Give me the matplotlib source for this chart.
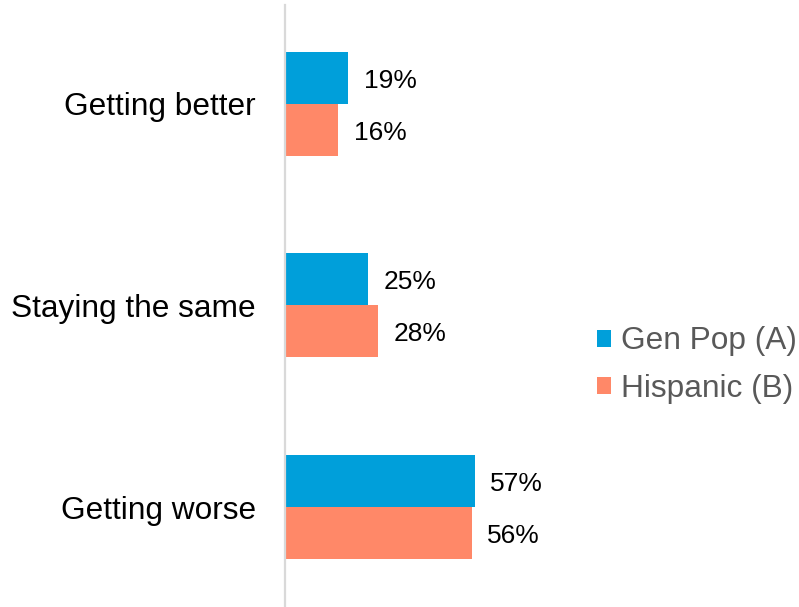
import matplotlib
matplotlib.use("Agg")
import matplotlib.pyplot as plt
from matplotlib.patches import Patch
import numpy as np

plt.rcParams['font.family'] = ['Liberation Sans', 'DejaVu Sans']

categories = ["Getting better", "Staying the same", "Getting worse"]
series_names = ["Gen Pop (A)", "Hispanic (B)"]
gen_pop = [19, 25, 57]
hispanic = [16, 28, 56]
colors = ["#009FDA", "#FF8868"]

W, H = 799, 607
fig = plt.figure(figsize=(W / 100, H / 100), dpi=100)
ax = fig.add_axes([285 / W, 0, 333.3 / W, 602 / H])

y = np.arange(len(categories))
bh = 0.258
ax.barh(y - bh / 2, gen_pop, height=bh, color=colors[0], linewidth=0)
ax.barh(y + bh / 2, hispanic, height=bh, color=colors[1], linewidth=0)

for vals, off in ((gen_pop, -bh / 2), (hispanic, bh / 2)):
    for yi, v in zip(y, vals):
        ax.annotate(f"{v}%", (v, yi + off), xytext=(11, -2), textcoords="offset points",
                    va="center", ha="left", fontsize=19, color="#000000")

ax.set_xlim(0, 100)
ax.set_ylim(2.496, -0.491)
ax.set_yticks(y)
ax.set_yticklabels(categories, fontsize=22.8, color="#000000")
ax.tick_params(axis="y", length=0, pad=21)
ax.set_xticks([])
for s in ("top", "right", "bottom"):
    ax.spines[s].set_visible(False)
ax.spines["left"].set_color("#D9D9D9")
ax.spines["left"].set_linewidth(1.6)
ax.patch.set_alpha(0)

handles = [Patch(facecolor=c, edgecolor="none") for c in colors]
fig.legend(handles, series_names, loc="center left", bbox_to_anchor=(597 / W, 1 - 365 / H),
           frameon=False, fontsize=22.8, labelcolor="#595959",
           handlelength=0.45, handleheight=0.45, handletextpad=0.32, labelspacing=0.55,
           borderpad=0, borderaxespad=0)

fig.savefig("out.png", dpi=100)
